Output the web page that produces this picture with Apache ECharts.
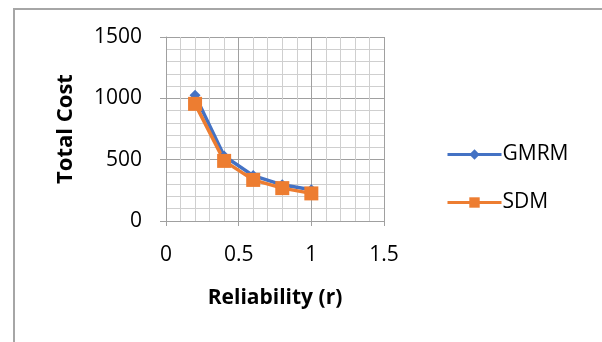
<!DOCTYPE html>
<html><head><meta charset="utf-8">
<script src="https://cdn.jsdelivr.net/npm/echarts@6/dist/echarts.min.js"></script>
<style>
html,body{margin:0;padding:0;background:#fff;}
#frame{position:absolute;left:13px;top:8px;right:0;bottom:0;border-left:2px solid #a6a6a6;border-top:2px solid #a6a6a6;}
#c{position:absolute;left:0;top:0;width:602px;height:342px;}
</style></head>
<body>
<div id="frame"></div>
<div id="c"></div>
<script>
var reliability = [0.2, 0.4, 0.6, 0.8, 1.0];
var gmrm = [1025, 530, 370, 295, 255];
var sdm = [955, 490, 335, 268, 225];
var seriesNames = ['GMRM', 'SDM'];

function pairs(xs, ys){ return xs.map(function(x,i){return [x, ys[i]];}); }

var chart = echarts.init(document.getElementById('c'), null, {renderer:'canvas'});
var font = 'Open Sans';
chart.setOption({
  animation:false,
  backgroundColor:'transparent',
  grid:{left:166, right:218, top:37, bottom:121, containLabel:false},
  xAxis:{
    type:'value', min:0, max:1.5, interval:0.5,
    name:'Reliability (r)', nameLocation:'middle', nameGap:67,
    nameTextStyle:{fontFamily:font, fontSize:21, fontWeight:'bold', color:'#000'},
    axisLine:{show:true, onZero:false, lineStyle:{color:'#a0a0a0', width:1}},
    axisTick:{show:true, length:5, lineStyle:{color:'#a0a0a0'}},
    axisLabel:{fontFamily:font, fontSize:21, color:'#000', margin:24,
      formatter:function(v){return String(v);}},
    splitLine:{show:true, lineStyle:{color:'#a0a0a0', width:1}},
    minorTick:{show:false, splitNumber:5},
    minorSplitLine:{show:true, lineStyle:{color:'#cfcfcf', width:1}}
  },
  yAxis:{
    type:'value', min:0, max:1500, interval:500,
    name:'Total Cost', nameLocation:'middle', nameGap:89, nameRotate:90,
    nameTextStyle:{fontFamily:font, fontSize:22, fontWeight:'bold', color:'#000'},
    axisLine:{show:true, lineStyle:{color:'#a0a0a0', width:1}},
    axisTick:{show:true, length:6, lineStyle:{color:'#a0a0a0'}},
    axisLabel:{fontFamily:font, fontSize:21, color:'#000', margin:24,
      formatter:function(v){return String(v);}},
    splitLine:{show:true, lineStyle:{color:'#a0a0a0', width:1}},
    minorTick:{show:false, splitNumber:5},
    minorSplitLine:{show:true, lineStyle:{color:'#cfcfcf', width:1}}
  },
  legend:{
    orient:'vertical', left:441, top:139, itemWidth:54, itemHeight:13, itemGap:27,
    lineStyle:{width:3},
    textStyle:{fontFamily:font, fontSize:21, color:'#000', padding:[0,0,0,-4]},
    data:seriesNames
  },
  series:[
    {name:seriesNames[0], type:'line', data:pairs(reliability, gmrm),
     symbol:'diamond', symbolSize:11, color:'#4472C4',
     lineStyle:{width:3.5, color:'#4472C4'}, itemStyle:{color:'#4472C4'}},
    {name:seriesNames[1], type:'line', data:pairs(reliability, sdm),
     symbol:'rect', symbolSize:14, color:'#ED7D31',
     lineStyle:{width:3.5, color:'#ED7D31'}, itemStyle:{color:'#ED7D31'}}
  ]
});
</script>
</body></html>
